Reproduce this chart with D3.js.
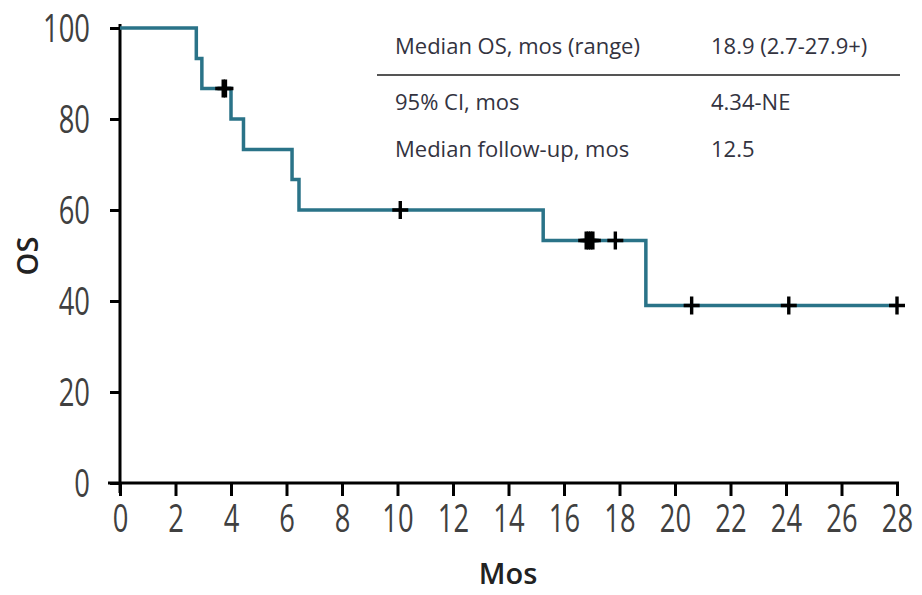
<!DOCTYPE html>
<html>
<head>
<meta charset="utf-8">
<script src="https://cdn.jsdelivr.net/npm/d3@7/dist/d3.min.js"></script>
<style>
  body { margin: 0; background: #fff; }
  svg { display: block; }
  .tick text { font-family: "Open Sans", sans-serif; font-weight: 400; fill: #404040; }
  .tbl { font-family: "Open Sans", "Noto Sans", sans-serif; fill: #33333f; font-size: 22px; }
</style>
</head>
<body>
<div id="chart"></div>
<script>
// KM step function (months, OS %)
var stepTimes = [0, 2.75, 2.95, 4.0, 4.45, 6.2, 6.45, 15.25, 18.95];
var stepSurv  = [100, 93.3, 86.7, 80.0, 73.3, 66.7, 60.0, 53.3, 39.0];
var endTime = 28.0;
// censor marks (months)
var censorTimes = [3.72, 3.8, 10.1, 16.8, 16.88, 16.96, 17.04, 17.85, 20.6, 24.1, 28.0];
var xTicks = [0, 2, 4, 6, 8, 10, 12, 14, 16, 18, 20, 22, 24, 26, 28];
var yTicks = [0, 20, 40, 60, 80, 100];
var tableLabels = ["Median OS, mos (range)", "95% CI, mos", "Median follow-up, mos"];
var tableValues = ["18.9 (2.7-27.9+)", "4.34-NE", "12.5"];

var W = 922, H = 595;
var sx = 0.72; // narrow tick font
var svg = d3.select("#chart").append("svg").attr("width", W).attr("height", H);

var x = d3.scaleLinear().domain([0, 28]).range([120, 897]);
var y = d3.scaleLinear().domain([0, 100]).range([483, 28]);

function survAt(t) {
  var s = stepSurv[0];
  for (var i = 0; i < stepTimes.length; i++) if (stepTimes[i] <= t) s = stepSurv[i];
  return s;
}

// axes
var xAxis = d3.axisBottom(x).tickValues(xTicks).tickSize(13).tickSizeOuter(0).tickPadding(9);
var gx = svg.append("g").attr("transform", "translate(0," + y(0) + ")").call(xAxis);
gx.select(".domain").attr("stroke", "#000").attr("stroke-width", 3).attr("d", "M108,0H" + (x(28) + 2));
gx.selectAll(".tick line").attr("stroke", "#000").attr("stroke-width", 3);
gx.selectAll(".tick text").attr("font-size", 38).attr("transform", "scale(" + sx + ",1)");

var yAxis = d3.axisLeft(y).tickValues(yTicks).tickSize(10).tickSizeOuter(0).tickPadding(20);
var gy = svg.append("g").attr("transform", "translate(" + x(0) + ",0)").call(yAxis);
gy.select(".domain").attr("stroke", "#000").attr("stroke-width", 3).attr("d", "M0," + (y(100) - 4) + "V" + (y(0) + 10));
gy.selectAll(".tick line").attr("stroke", "#000").attr("stroke-width", 3);
gy.selectAll(".tick text").attr("font-size", 38).attr("dy", "0.36em")
  .attr("x", -30 / sx).attr("transform", "scale(" + sx + ",1)");

// axis titles
svg.append("text").attr("x", 508).attr("y", 584).attr("text-anchor", "middle")
  .attr("font-family", "Open Sans, sans-serif").attr("font-weight", 600).attr("font-size", 29)
  .attr("fill", "#222").text("Mos");
svg.append("text").attr("transform", "translate(38,256) rotate(-90)").attr("text-anchor", "middle")
  .attr("font-family", "Open Sans, sans-serif").attr("font-weight", 600).attr("font-size", 29)
  .attr("fill", "#222").text("OS");

// KM curve
var pts = stepTimes.map(function (t, i) { return [t, stepSurv[i]]; });
pts.push([endTime, stepSurv[stepSurv.length - 1]]);
var line = d3.line().x(function (d) { return x(d[0]); }).y(function (d) { return y(d[1]); }).curve(d3.curveStepAfter);
svg.append("path").datum(pts).attr("d", line).attr("fill", "none")
  .attr("stroke", "#2a7388").attr("stroke-width", 3.5);

// censor marks
svg.selectAll(".cens").data(censorTimes).enter().append("path")
  .attr("class", "cens")
  .attr("transform", function (d) { return "translate(" + x(d) + "," + y(survAt(d)) + ")"; })
  .attr("d", "M-8,0H8M0,-9V9").attr("stroke", "#000").attr("stroke-width", 3.4);

// table
var rowY = [54, 110, 157];
svg.selectAll(".tl").data(tableLabels).enter().append("text").attr("class", "tbl")
  .attr("x", 395).attr("y", function (d, i) { return rowY[i]; }).text(function (d) { return d; });
svg.selectAll(".tv").data(tableValues).enter().append("text").attr("class", "tbl")
  .attr("x", 711).attr("y", function (d, i) { return rowY[i]; }).text(function (d) { return d; });
svg.append("line").attr("x1", 377).attr("x2", 900).attr("y1", 75).attr("y2", 75)
  .attr("stroke", "#555").attr("stroke-width", 2.2);
</script>
</body>
</html>
